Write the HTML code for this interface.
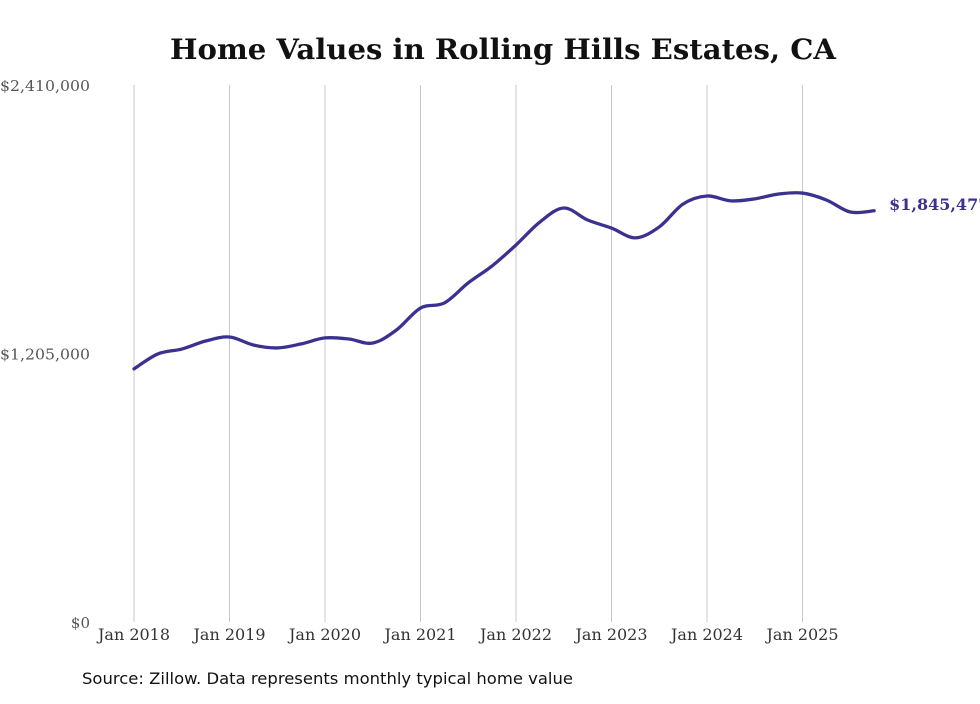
<!DOCTYPE html>
<html><head><meta charset="utf-8"><style>
body{margin:0;background:#fff;width:980px;height:699px;overflow:hidden;font-family:"Liberation Serif",serif}
</style></head><body>
<svg id="chart" width="980" height="699" xmlns="http://www.w3.org/2000/svg">
<text x="503" y="59" text-anchor="middle" font-family="DejaVu Serif, serif" font-weight="bold" font-size="28" textLength="666" lengthAdjust="spacingAndGlyphs" fill="#111">Home Values in Rolling Hills Estates, CA</text>
<g id="grid"></g><g id="yaxis"></g><g id="xaxis"></g><g id="series"></g>
<text x="82" y="684" font-family="DejaVu Sans, sans-serif" font-size="16" textLength="491" lengthAdjust="spacingAndGlyphs" fill="#111">Source: Zillow. Data represents monthly typical home value</text>
</svg>
<script>
const yTicks=[0,1205000,2410000];
const yTickLabels=["$0","$1,205,000","$2,410,000"];
const xTickYears=[2018,2019,2020,2021,2022,2023,2024,2025];
const dates=[2018.0,2018.25,2018.5,2018.75,2019.0,2019.25,2019.5,2019.75,2020.0,2020.25,2020.5,2020.75,2021.0,2021.25,2021.5,2021.75,2022.0,2022.25,2022.5,2022.75,2023.0,2023.25,2023.5,2023.75,2024.0,2024.25,2024.5,2024.75,2025.0,2025.25,2025.5,2025.75];
const values=[1136000,1203000,1225000,1261000,1279000,1243000,1230000,1248000,1275000,1270000,1252000,1311000,1409000,1432000,1522000,1598000,1692000,1795000,1858000,1804000,1768000,1724000,1773000,1876000,1912000,1890000,1899000,1921000,1925000,1894000,1840000,1845477];
const lastLabel="$1,845,477";
const NS="http://www.w3.org/2000/svg";
const x=d=>134+(d-2018)*95.5;
const y=v=>622-v/2410000*537;
function mk(t,a,p){const e=document.createElementNS(NS,t);for(const k in a)e.setAttribute(k,a[k]);document.getElementById(p).appendChild(e);return e;}
xTickYears.forEach(yr=>{
 const l=mk('line',{x1:x(yr),x2:x(yr),y1:85,y2:622,stroke:'#c8c8c8','stroke-width':1},'grid');
 
 
 const t=mk('text',{x:x(yr),y:640,'text-anchor':'middle','font-size':16,fill:'#333','font-family':'DejaVu Serif, serif',textLength:72,lengthAdjust:'spacingAndGlyphs'},'xaxis');
 t.textContent='Jan '+yr;
 
 
});
yTicks.forEach((v,i)=>{
 const a={x:90,y:y(v)+6,'text-anchor':'end','font-size':15,fill:'#555','font-family':'DejaVu Serif, serif'};
 if(yTickLabels[i].length>5){a.textLength=90;a.lengthAdjust='spacingAndGlyphs';}
 const t=mk('text',a,'yaxis');
 t.textContent=yTickLabels[i];
 
 
});
const pts=dates.map((d,i)=>[x(d),y(values[i])]);
let dstr='M'+pts[0][0]+','+pts[0][1];
for(let i=0;i<pts.length-1;i++){
 const p0=pts[Math.max(0,i-1)],p1=pts[i],p2=pts[i+1],p3=pts[Math.min(pts.length-1,i+2)];
 const c1=[p1[0]+(p2[0]-p0[0])/6,p1[1]+(p2[1]-p0[1])/6],c2=[p2[0]-(p3[0]-p1[0])/6,p2[1]-(p3[1]-p1[1])/6];
 dstr+=' C'+c1+' '+c2+' '+p2;
}
const path=mk('path',{d:dstr,fill:'none',stroke:'#3b3290','stroke-width':3.3,'stroke-linecap':'round'},'series');


const lp=pts[pts.length-1];
const lt=mk('text',{x:lp[0]+15,y:lp[1]-1,'font-size':16,'font-weight':'bold',fill:'#3b3290','font-family':'DejaVu Serif, serif'},'series');
lt.textContent=lastLabel;


</script>
</body></html>
